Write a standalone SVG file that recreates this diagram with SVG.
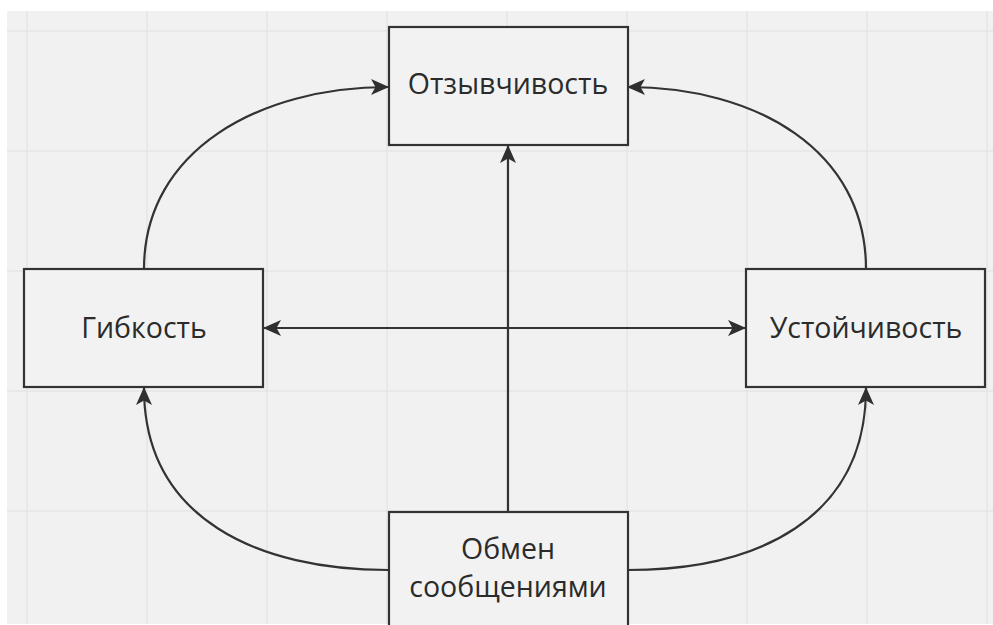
<svg xmlns="http://www.w3.org/2000/svg" width="993" height="625" viewBox="0 0 993 625">
<style>
.grid line{stroke:#e5e5e5;stroke-width:1.5}
.box{fill:#f2f2f2;stroke:#333;stroke-width:2.2}
.lbl{font-family:"Open Sans","Noto Sans",sans-serif;font-size:28.5px;fill:#2b2b2b;text-anchor:middle}
.edge{fill:none;stroke:#333;stroke-width:2.2}
</style>
<defs>
<marker id="ah" viewBox="0 0 18 16" refX="17" refY="8" markerWidth="18" markerHeight="16" markerUnits="userSpaceOnUse" orient="auto-start-reverse">
<path d="M0,0 L18,8 L0,16 L4.5,8 Z" fill="#2f2f2f"/>
</marker>
</defs>
<rect width="993" height="625" fill="#ffffff"/>
<rect x="7" y="11" width="986" height="613" fill="#f1f1f1"/>
<g class="grid">
<line x1="27" y1="11" x2="27" y2="624"/><line x1="147" y1="11" x2="147" y2="624"/><line x1="267" y1="11" x2="267" y2="624"/><line x1="387" y1="11" x2="387" y2="624"/><line x1="507" y1="11" x2="507" y2="624"/><line x1="627" y1="11" x2="627" y2="624"/><line x1="747" y1="11" x2="747" y2="624"/><line x1="867" y1="11" x2="867" y2="624"/><line x1="987" y1="11" x2="987" y2="624"/>
<line x1="7" y1="31" x2="993" y2="31"/><line x1="7" y1="151" x2="993" y2="151"/><line x1="7" y1="271" x2="993" y2="271"/><line x1="7" y1="391" x2="993" y2="391"/><line x1="7" y1="511" x2="993" y2="511"/>
</g>
<g id="connectors">
<path class="edge" d="M144,269 C144,150 260,87 388,87" marker-end="url(#ah)"/>
<path class="edge" d="M866,269 C866,150 756,87 628,87" marker-end="url(#ah)"/>
<path class="edge" d="M388,570 C260,570 144,520 144,388" marker-end="url(#ah)"/>
<path class="edge" d="M628,570 C756,570 866,520 866,388" marker-end="url(#ah)"/>
<path class="edge" d="M508,512 L508,146" marker-end="url(#ah)"/>
<path class="edge" d="M264,328 L745,328" marker-start="url(#ah)" marker-end="url(#ah)"/>
</g>
<g id="node-otzyvchivost">
<rect class="box" x="389" y="27" width="239" height="118"/>
<text class="lbl" x="508" y="94">Отзывчивость</text>
</g>
<g id="node-gibkost">
<rect class="box" x="24" y="269" width="239" height="118"/>
<text class="lbl" x="144" y="338">Гибкость</text>
</g>
<g id="node-ustoychivost">
<rect class="box" x="746" y="269" width="239" height="118"/>
<text class="lbl" x="866" y="338">Устойчивость</text>
</g>
<g id="node-obmen">
<rect class="box" x="389" y="512" width="239" height="130"/>
<text class="lbl" x="508" y="559">Обмен</text>
<text class="lbl" x="508" y="597">сообщениями</text>
</g>
</svg>
